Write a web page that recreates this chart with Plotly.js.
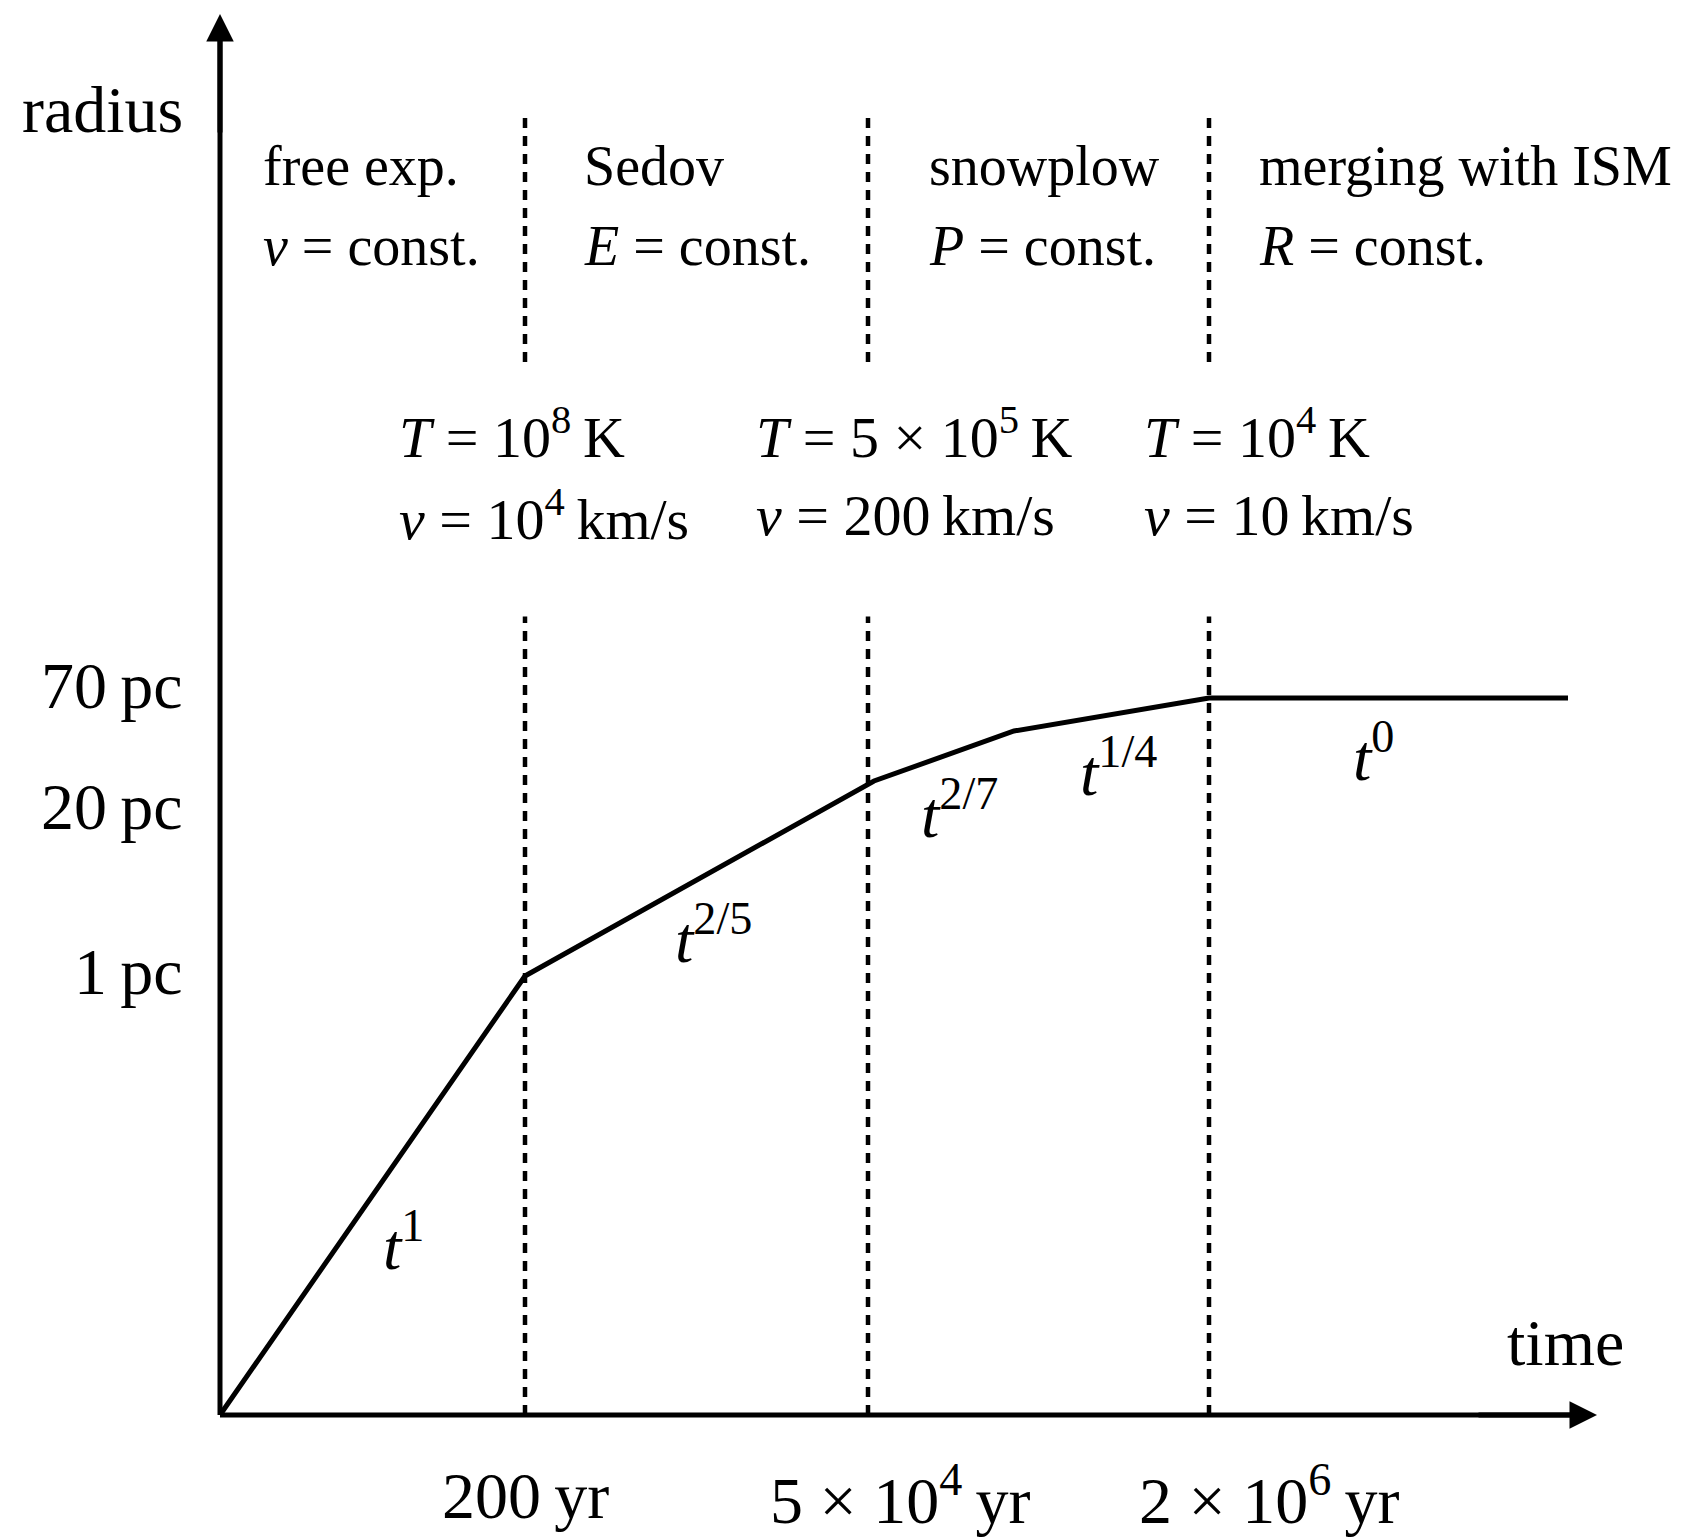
<!DOCTYPE html>
<html>
<head>
<meta charset="utf-8">
<script src="https://cdn.plot.ly/plotly-3.0.1.min.js"></script>
<style>html,body{margin:0;padding:0;background:#fff;}#chart{width:1681px;height:1537px;}</style>
</head>
<body>
<div id="chart"></div>
<script>
// ---- schematic data (time and radius in schematic units, origin at the axes crossing) ----
const phaseBoundaries = [305, 648, 989];                 // ends of free exp., Sedov, snowplow
const curveTime   = [0, 305, 654, 794, 989, 1348];
const curveRadius = [0, 439, 634, 684, 717, 717];
const xTickLabels = ['200\u2009yr', '5 × 10<sup>4</sup>\u2009yr', '2 × 10<sup>6</sup>\u2009yr'];
const yTickLabels = ['70\u2009pc', '20\u2009pc', '1\u2009pc'];
const phaseNames  = ['free exp.', 'Sedov', 'snowplow', 'merging with ISM'];
const phaseLaws   = ['<i>v</i> = const.', '<i>E</i> = const.', '<i>P</i> = const.', '<i>R</i> = const.'];
const temperatures = ['<i>T</i> = 10<sup>8</sup>\u2009K', '<i>T</i> = 5 × 10<sup>5</sup>\u2009K', '<i>T</i> = 10<sup>4</sup>\u2009K'];
const velocities   = ['<i>v</i> = 10<sup>4</sup>\u2009km/s', '<i>v</i> = 200\u2009km/s', '<i>v</i> = 10\u2009km/s'];
const powerLaws    = ['<i>t</i><sup>1</sup>', '<i>t</i><sup>2/5</sup>', '<i>t</i><sup>2/7</sup>', '<i>t</i><sup>1/4</sup>', '<i>t</i><sup>0</sup>'];

// ---- layout constants ----
const FONT = 'Liberation Serif';
const axisTop = 1401, axisRight = 1377;
const upperDash = [1053, 1302], lowerDash = [0, 798.5];

const traces = [];
// dashed phase boundaries
const dx = [], dy = [];
phaseBoundaries.forEach(b => {
  dx.push(b, b, null, b, b, null);
  dy.push(lowerDash[0], lowerDash[1], null, upperDash[0], upperDash[1], null);
});
traces.push({x: dx, y: dy, mode: 'lines', line: {color: '#000', width: 4.5, dash: '10px,8px'}, hoverinfo: 'skip', connectgaps: false});
// axes
traces.push({x: [0, 0, null, 0, axisRight - 20], y: [axisTop - 20, 0, null, 0, 0], mode: 'lines',
  line: {color: '#000', width: 5}, hoverinfo: 'skip'});
// radius curve
traces.push({x: curveTime, y: curveRadius, mode: 'lines', line: {color: '#000', width: 5}, hoverinfo: 'skip'});

const ann = [];
function label(text, x, y, size, xanchor) {
  ann.push({text: text, x: x, y: y, xref: 'x', yref: 'y', showarrow: false,
    xanchor: xanchor || 'left', yanchor: 'middle', font: {family: FONT, size: size, color: '#000'}});
}
// arrow heads
function arrow(x, y, ax, ay) {
  ann.push({text: '', x: x, y: y, ax: ax, ay: ay, xref: 'x', yref: 'y', axref: 'x', ayref: 'y',
    showarrow: true, arrowhead: 2, arrowsize: 1.1, arrowwidth: 5, arrowcolor: '#000', standoff: 0, startstandoff: 0});
}
arrow(0, axisTop, 0, axisTop - 120);
arrow(axisRight, 0, axisRight - 120, 0);

label('radius', -35, 1306, 66, 'right');
label('time', 1345, 73, 66, 'center');

const phaseX = [40.5, 362, 707, 1036.5];
phaseNames.forEach((t, i) => label(t, phaseX[i], 1249, 56));
phaseLaws.forEach((t, i) => label(t, phaseX[i], 1169, 56));

const condX = [176.7, 533.7, 921.8];
temperatures.forEach((t, i) => label(t, condX[i], 982, 58));
velocities.forEach((t, i) => label(t, condX[i], 900, 58));

const yTickPos = [730, 609, 444];
yTickLabels.forEach((t, i) => label(t, -35, yTickPos[i], 66, 'right'));
const xTickPos = [305, 680.6, 1049];
xTickLabels.forEach((t, i) => label(t, xTickPos[i], -80, 66, 'center'));

const plX = [160.6, 453.3, 698.8, 857.5, 1130.8];
const plY = [174, 481, 606, 648, 663];
powerLaws.forEach((t, i) => label(t, plX[i], plY[i], 66));

const layout = {
  width: 1681, height: 1537,
  margin: {l: 0, r: 0, t: 0, b: 0},
  paper_bgcolor: '#fff', plot_bgcolor: '#fff',
  showlegend: false,
  xaxis: {range: [-220, 1461], visible: false, fixedrange: true},
  yaxis: {range: [-122, 1415], visible: false, fixedrange: true},
  annotations: ann
};
Plotly.newPlot('chart', traces, layout, {staticPlot: true, displayModeBar: false});
</script>
</body>
</html>
